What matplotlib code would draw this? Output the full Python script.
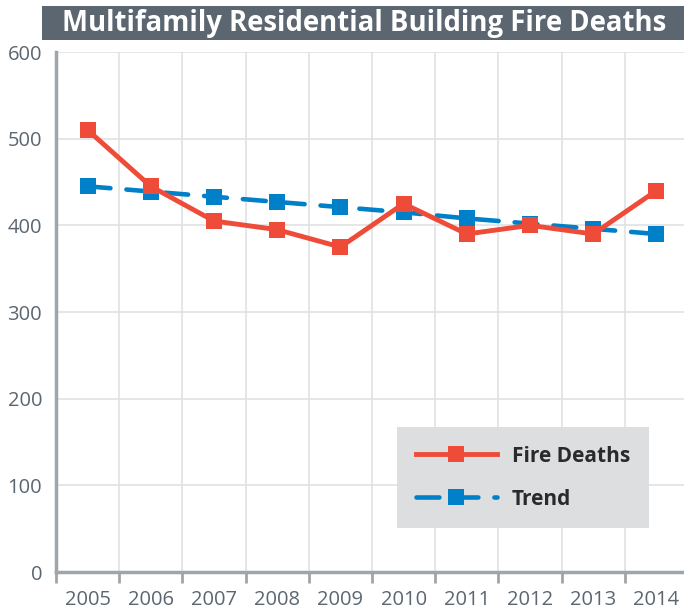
import matplotlib.pyplot as plt
from matplotlib.patches import Rectangle

years = ["2005", "2006", "2007", "2008", "2009", "2010", "2011", "2012", "2013", "2014"]
fire_deaths = [510, 445, 405, 395, 375, 425, 390, 400, 390, 440]
trend = [445, 439, 433, 427, 421, 415, 408, 402, 396, 390]

plt.rcParams["font.family"] = ["Open Sans", "DejaVu Sans"]

red = "#ee4b38"
blue = "#0080c8"
gray_txt = "#5b6670"

fig = plt.figure(figsize=(6.84, 6.11), dpi=100)
ax = fig.add_axes([56 / 684, 39 / 611, 632 / 684, 520 / 611])

x = list(range(len(years)))
ax.plot(x, trend, color=blue, lw=3.3, ls=(0, (5, 3.5)), dash_capstyle="round",
        marker="s", ms=12, mew=0, label="Trend", zorder=3)
ax.plot(x, fire_deaths, color=red, lw=3.5, marker="s", ms=12, mew=0,
        label="Fire Deaths", zorder=4)

ax.set_xlim(-0.5, len(years) - 0.5)
ax.set_ylim(0, 600)
ax.set_yticks(range(0, 601, 100))
ax.set_xticks([i + 0.5 for i in range(-1, len(years))], minor=False)
ax.set_xticklabels([])
ax.set_xticks(x, minor=True)
ax.set_xticklabels(years, minor=True)
ax.tick_params(axis="x", which="minor", length=0, pad=13, labelsize=14.5, labelcolor=gray_txt)
ax.tick_params(axis="x", which="major", length=8, width=2, color="#a0a5aa")
ax.tick_params(axis="y", length=0, pad=10, labelsize=14.5, labelcolor=gray_txt)

ax.grid(True, which="major", color="#dfe1e4", lw=1.2)
ax.set_axisbelow(True)
for s in ["top", "right"]:
    ax.spines[s].set_visible(False)
for s in ["left", "bottom"]:
    ax.spines[s].set_color("#a0a5aa")
    ax.spines[s].set_linewidth(2.5)

handles, labels = ax.get_legend_handles_labels()
leg = ax.legend(handles[::-1], labels[::-1], loc="upper left",
                bbox_to_anchor=(397 / 684, 1 - 427 / 611), bbox_transform=fig.transFigure,
                borderaxespad=0, frameon=True, fancybox=False, facecolor="#dcdee0",
                edgecolor="none", framealpha=1, handlelength=3.9, handletextpad=0.7,
                borderpad=0.9, labelspacing=1.05, prop={"weight": "bold", "size": 15})
for t in leg.get_texts():
    t.set_color("#2a2a2a")

fig.patches.append(Rectangle((42 / 684, 1 - 40 / 611), 642 / 684, 34 / 611,
                             transform=fig.transFigure, facecolor="#5b6670",
                             edgecolor="none", zorder=0))
fig.text(364 / 684, 1 - 23 / 611, "Multifamily Residential Building Fire Deaths",
         color="white", fontsize=19.8, fontweight="bold", ha="center", va="center")

fig.savefig("out.png", dpi=100)
